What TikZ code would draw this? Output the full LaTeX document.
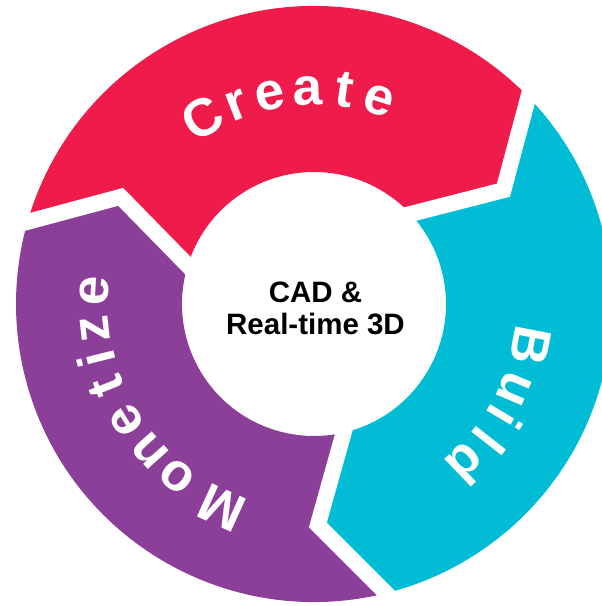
\documentclass[tikz,border=0pt]{standalone}
\usepackage{fontspec}
\setmainfont{Liberation Sans}
\usetikzlibrary{calc}
\definecolor{createred}{HTML}{EE1B4B}
\definecolor{buildcyan}{HTML}{00BCD4}
\definecolor{monetpurple}{HTML}{8C3F98}
\begin{document}
\begin{tikzpicture}[x=1pt,y=1pt,
  ringletter/.style={text=white, font=\fontsize{53}{53}\selectfont\bfseries, anchor=base, inner sep=0pt},
  hubtext/.style={text=black, font=\fontsize{29.5}{30}\selectfont\bfseries, anchor=base, inner sep=0pt},
  gapline/.style={draw=white, line width=16pt, line join=miter}]
\useasboundingbox (-314,-302) rectangle (288,304);
\clip (-314,-302) rectangle (288,304);
% radii: outer rim, inner hub, arrow tip
\def\Ro{298}
\def\Ri{132}
\def\Rt{221}
% Create segment (top)
\fill[createred] (164:\Ro) arc[start angle=164, end angle=44, radius=\Ro]
  -- (31:\Rt) -- (43:\Ri) arc[start angle=43, end angle=163, radius=\Ri]
  -- (151:\Rt) -- cycle;
% Build segment (right)
\fill[buildcyan] (44:\Ro) arc[start angle=44, end angle=-76, radius=\Ro]
  -- (-89:\Rt) -- (-77:\Ri) arc[start angle=-77, end angle=43, radius=\Ri]
  -- (31:\Rt) -- cycle;
% Monetize segment (left)
\fill[monetpurple] (-76:\Ro) arc[start angle=-76, end angle=-196, radius=\Ro]
  -- (-209:\Rt) -- (-197:\Ri) arc[start angle=-197, end angle=-77, radius=\Ri]
  -- (-89:\Rt) -- cycle;
% white chevron gaps between the segments
\foreach \t in {44,164,284} {
  \coordinate (tip) at (\t-13:\Rt);
  \coordinate (rim) at (\t:\Ro);
  \coordinate (hub) at (\t-1:\Ri);
  \draw[gapline] ($(tip)!1.25!(rim)$) -- (tip) -- ($(tip)!1.3!(hub)$);
}
% centre label
\node[hubtext] (hubA) at (1.5,1.3) {CAD \&};
\node[hubtext] (hubB) at (1.5,-30) {Real-time 3D};
% curved segment labels, one letter at a time
\foreach \ch/\a [count=\i] in {C/120.9, r/111.2, e/101.8, a/91.8, t/81.8, e/72.4}
  \node[ringletter, rotate=\a-90] (create\i) at (\a:199) {\ch};
\foreach \ch/\a [count=\i] in {B/-11.0, u/-22.9, i/-30.8, l/-38.0, d/-46.3}
  \node[ringletter, rotate=\a-90] (build\i) at (\a:203) {\ch};
\foreach \ch/\a [count=\i] in {M/245.6, o/231.6, n/221.8, e/211.8, t/201.6, i/194.1, z/186.4, e/176.5}
  \node[ringletter, rotate=\a-90] (monetize\i) at (\a:206) {\ch};
\end{tikzpicture}
\end{document}
